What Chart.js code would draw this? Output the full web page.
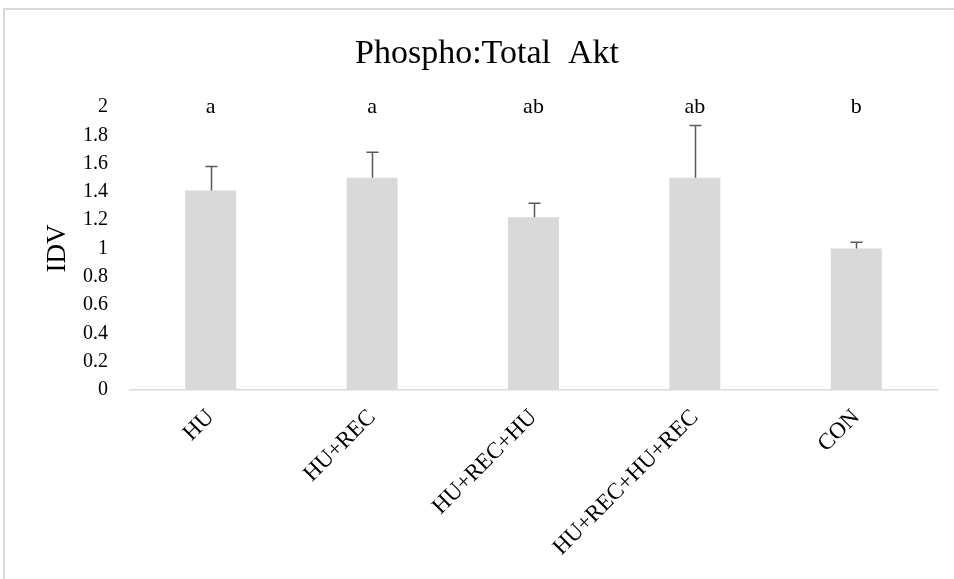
<!DOCTYPE html>
<html>
<head>
<meta charset="utf-8">
<script src="https://cdn.jsdelivr.net/npm/chart.js@4/dist/chart.umd.min.js"></script>
<style>
  html, body { margin: 0; padding: 0; background: #fff; }
  canvas { display: block; }
</style>
</head>
<body>
<canvas id="chart" width="954" height="579"></canvas>
<script>
// data
const groups = ["HU", "HU+REC", "HU+REC+HU", "HU+REC+HU+REC", "CON"];
const means = [1.41, 1.50, 1.22, 1.50, 1.00];
const errors = [0.17, 0.18, 0.10, 0.37, 0.045];
const letters = ["a", "a", "ab", "ab", "b"];
const yTicks = [0, 0.2, 0.4, 0.6, 0.8, 1, 1.2, 1.4, 1.6, 1.8, 2];

const serif = "'Liberation Serif', 'Times New Roman', serif";

// frame, title, error bars and significance letters
const extras = {
    id: "extras",
    beforeDraw(chart) {
        const ctx = chart.ctx;
        ctx.save();
        ctx.strokeStyle = "#d9d9d9";
        ctx.lineWidth = 2;
        ctx.strokeRect(4, 9, 1200, 1200);
        ctx.restore();
    },
    afterDatasetsDraw(chart) {
        const ctx = chart.ctx;
        const x = chart.scales.x;
        const y = chart.scales.y;
        ctx.save();

        ctx.fillStyle = "#000";
        ctx.font = "34px " + serif;
        ctx.textAlign = "center";
        ctx.textBaseline = "middle";
        ctx.fillText("Phospho:Total  Akt", 487, 54);

        ctx.strokeStyle = "#595959";
        ctx.lineWidth = 1.5;
        means.forEach((m, i) => {
            const cx = Math.round(x.getPixelForValue(i)) + 0.5;
            const top = y.getPixelForValue(m + errors[i]);
            const base = y.getPixelForValue(m);
            ctx.beginPath();
            ctx.moveTo(cx, base);
            ctx.lineTo(cx, top);
            ctx.moveTo(cx - 6, top);
            ctx.lineTo(cx + 6, top);
            ctx.stroke();
        });

        ctx.font = "22px " + serif;
        letters.forEach((t, i) => {
            ctx.fillText(t, x.getPixelForValue(i), y.getPixelForValue(yTicks[yTicks.length - 1]));
        });
        ctx.restore();
    }
};

new Chart(document.getElementById("chart"), {
    type: "bar",
    data: {
        labels: groups,
        datasets: [{
            data: means,
            backgroundColor: "#d9d9d9",
            borderWidth: 0,
            categoryPercentage: 1,
            barPercentage: 0.316
        }]
    },
    options: {
        responsive: false,
        animation: false,
        layout: { padding: { left: 42, right: 17, top: 107, bottom: 0 } },
        plugins: {
            legend: { display: false },
            tooltip: { enabled: false }
        },
        scales: {
            x: {
                afterFit: s => { s.height = 189; },
                grid: { display: false, drawTicks: false },
                border: { display: true, color: "#d9d9d9", width: 1.5 },
                ticks: {
                    autoSkip: false,
                    minRotation: 45,
                    maxRotation: 45,
                    padding: 14,
                    color: "#000",
                    font: { family: serif, size: 23 }
                }
            },
            y: {
                min: 0,
                max: 2,
                afterFit: s => { s.width = 88; },
                afterBuildTicks: s => { s.ticks = yTicks.map(v => ({ value: v })); },
                grid: { display: false, drawTicks: false },
                border: { display: false },
                title: {
                    display: true,
                    text: "IDV",
                    color: "#000",
                    padding: 0,
                    font: { family: serif, size: 27 }
                },
                ticks: {
                    padding: 22,
                    color: "#000",
                    font: { family: serif, size: 20 },
                    callback: v => String(+v.toFixed(1))
                }
            }
        }
    },
    plugins: [extras]
});
</script>
</body>
</html>
